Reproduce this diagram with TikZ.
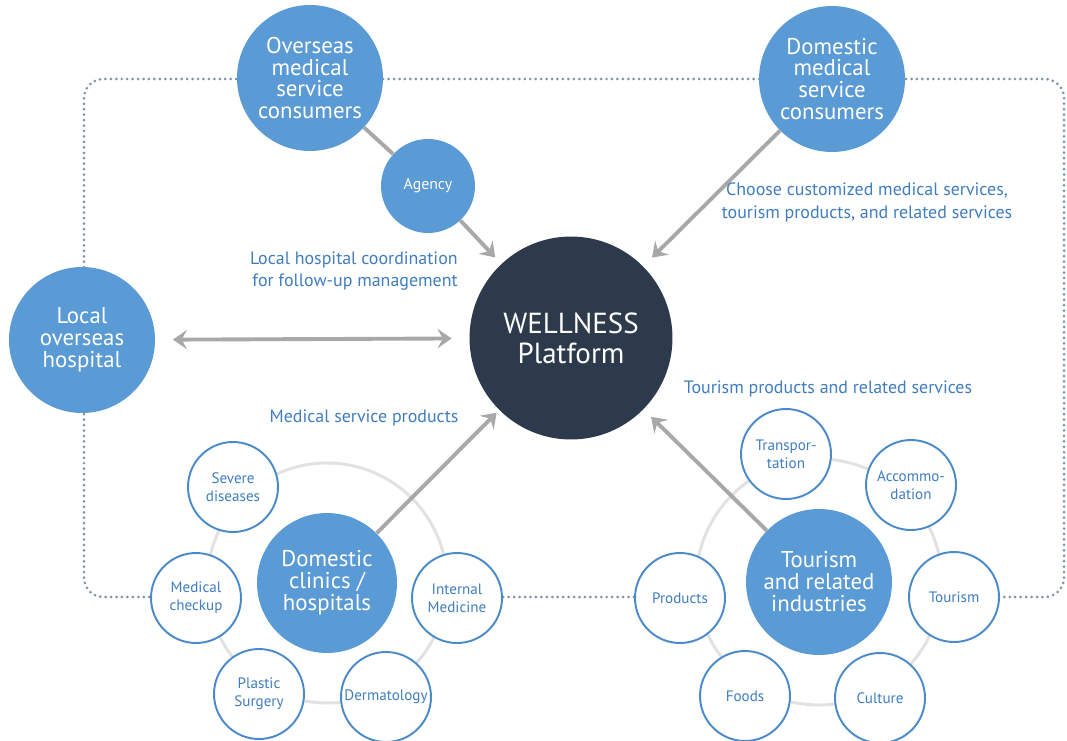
\documentclass[tikz,border=0pt]{standalone}
\usepackage{fontspec}
\setmainfont{PT Sans}
\usetikzlibrary{arrows.meta,positioning}

\definecolor{hubblue}{HTML}{5B9BD5}
\definecolor{ringblue}{HTML}{4A8ACB}
\definecolor{textblue}{HTML}{3F7DC0}
\definecolor{platformdark}{HTML}{2D3A4C}
\definecolor{arrowgray}{HTML}{A8A8A8}
\definecolor{dotgray}{HTML}{7F93A8}
\definecolor{ringgray}{HTML}{E2E2E2}

\tikzset{
  bignode/.style={circle, fill=hubblue, text=white, align=center, inner sep=0pt,
    minimum size=2.92cm, font=\fontsize{13}{12.5}\selectfont},
  subnode/.style={circle, draw=ringblue, line width=1.1pt, fill=white, text=textblue,
    align=center, inner sep=0pt, minimum size=1.8cm, font=\fontsize{8.6}{10.2}\selectfont},
  caption/.style={text=textblue, inner sep=0pt, font=\fontsize{10.2}{13}\selectfont},
  flow/.style={draw=arrowgray, line width=2.2pt,
    -{Stealth[length=8pt,width=11pt,inset=3pt]}},
  ring/.style={draw=ringgray, line width=1.7pt, fill=white},
}

\begin{document}
\begin{tikzpicture}[x=0.02cm, y=-0.02cm]
    \useasboundingbox (0,0) rectangle (1067,740);

    % Draw dotted frame
    \draw[dotgray, line width=1.7pt, line cap=round, dash pattern=on 0pt off 3.1pt,
      rounded corners=11pt] (84,79) rectangle (1064,597);

    % Draw rings behind the two groups
    \draw[ring] (327,583) circle[radius=120];
    \draw[ring] (819,582) circle[radius=123];

    % Place the main circles
    \node[bignode] (overseas) at (310,78) {Overseas\\medical\\service\\consumers};
    \node[bignode] (domestic) at (832,79) {Domestic\\medical\\service\\consumers};
    \node[bignode] (local) at (82,340) {Local\\overseas\\hospital};
    \node[circle, fill=hubblue, text=white, inner sep=0pt, minimum size=1.88cm,
      font=\fontsize{9}{10}\selectfont] (agency) at (428,186) {Agency};
    \node[circle, fill=platformdark, text=white, align=center, inner sep=0pt,
      minimum size=4.06cm, font=\fontsize{16.5}{17}\selectfont] (platform) at (571,338) {WELLNESS\\Platform};
    \node[bignode, minimum size=2.8cm] (clinics) at (327,583) {Domestic\\clinics /\\hospitals};
    \node[bignode] (tourhub) at (819,582) {Tourism\\and related\\industries};

    % Place the medical fields
    \node[subnode] (severe) at (233,487) {Severe\\diseases};
    \node[subnode] (checkup) at (196,598) {Medical\\checkup};
    \node[subnode] (internal) at (457,598) {Internal\\Medicine};
    \node[subnode] (plastic) at (259,694) {Plastic\\Surgery};
    \node[subnode] (derma) at (386,697) {Dermatology};

    % Place the tourism fields
    \node[subnode] (transport) at (786,454) {Transpor-\\tation};
    \node[subnode] (accom) at (911,485) {Accommo-\\dation};
    \node[subnode] (tourism) at (954,597) {Tourism};
    \node[subnode] (culture) at (880,698) {Culture};
    \node[subnode] (foods) at (745,696) {Foods};
    \node[subnode] (products) at (680,598) {Products};

    % Draw arrows into the platform
    \draw[flow, -] (overseas) -- (agency);
    \draw[flow, shorten >=5pt] (agency) -- (platform);
    \draw[flow, shorten >=7pt] (domestic) -- (platform);
    \draw[flow, shorten >=2pt] (clinics) -- (platform);
    \draw[flow, shorten >=6pt] (tourhub) -- (platform);
    \draw[flow, {Stealth[length=8pt,width=11pt,inset=3pt]}-{Stealth[length=8pt,width=11pt,inset=3pt]},
      shorten <=10pt, shorten >=10pt] (local) -- (platform);

    % Add the flow labels
    \node[caption, align=right, anchor=east] (followup) at (458,271) {Local hospital coordination\\for follow-up management};
    \node[caption] (medlabel) at (364,418) {Medical service products};
    \node[caption, align=center] (choose) at (867,202) {Choose customized medical services,\\tourism products, and related services};
    \node[caption] (tourlabel) at (828,389) {Tourism products and related services};
\end{tikzpicture}
\end{document}
